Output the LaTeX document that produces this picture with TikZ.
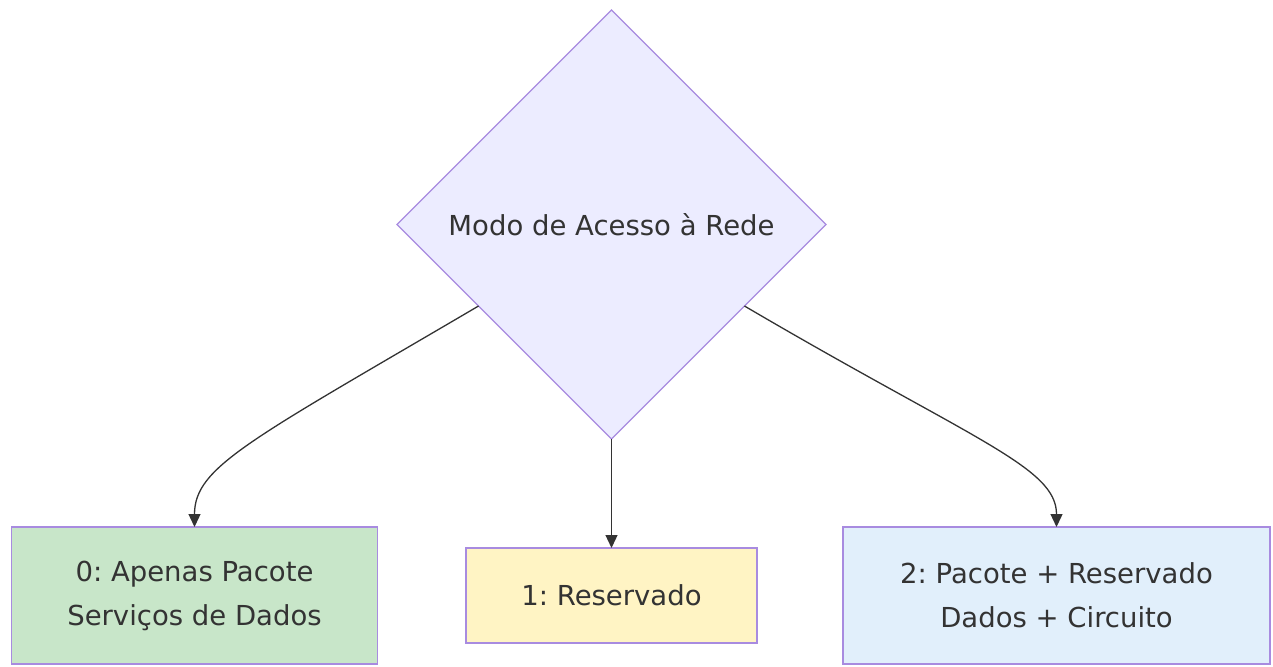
\documentclass[tikz,border=0pt]{standalone}
\usepackage{fontspec}
\setmainfont{DejaVu Sans}
\frenchspacing
\usetikzlibrary{shapes.geometric,arrows.meta,calc}
\definecolor{txt}{HTML}{333333}
\definecolor{edge}{HTML}{333333}
\definecolor{nstroke}{HTML}{A88BE0}
\definecolor{diafill}{HTML}{ECECFF}
\definecolor{gfill}{HTML}{C8E6C9}
\definecolor{yfill}{HTML}{FFF4C4}
\definecolor{bfill}{HTML}{E1EFFB}
\tikzset{
  base/.style={draw=nstroke, line width=1.3pt, text=txt, inner sep=0pt, outer sep=0pt, align=center,
    font=\fontsize{27.5}{44}\selectfont\frenchspacing},
  decision/.style={base, diamond, fill=diafill, aspect=1, minimum width=429pt, minimum height=429pt},
  optbox/.style={base, rectangle},
  conn/.style={draw=edge, line width=1.3pt, -{Triangle[length=13pt,width=12pt]}},
}
\begin{document}
\begin{tikzpicture}[x=1pt,y=-1pt]
\useasboundingbox (0,0) rectangle (1273,666);
\node[decision] (dia) at (611.5,224.5) {Modo de Acesso à Rede};
\node[optbox, fill=gfill, minimum width=366pt, minimum height=137pt] (b0) at (194.5,595.5) {0: Apenas Pacote\\Serviços de Dados};
\node[optbox, fill=yfill, minimum width=291pt, minimum height=95pt] (b1) at (611.5,595.5) {1: Reservado};
\node[optbox, fill=bfill, minimum width=427pt, minimum height=137pt] (b2) at (1056.5,595.5) {2: Pacote + Reservado\\Dados + Circuito};
\coordinate (s0) at ($(dia.west)!0.38!(dia.south)$);
\coordinate (s2) at ($(dia.east)!0.38!(dia.south)$);
\draw[conn] (s0) .. controls ($(s0)+(-230,135)$) and ($(b0.north)+(0,-60)$) .. (b0.north);
\draw[conn] (dia.south) -- (b1.north);
\draw[conn] (s2) .. controls ($(s2)+(230,135)$) and ($(b2.north)+(0,-60)$) .. (b2.north);
\end{tikzpicture}
\end{document}
